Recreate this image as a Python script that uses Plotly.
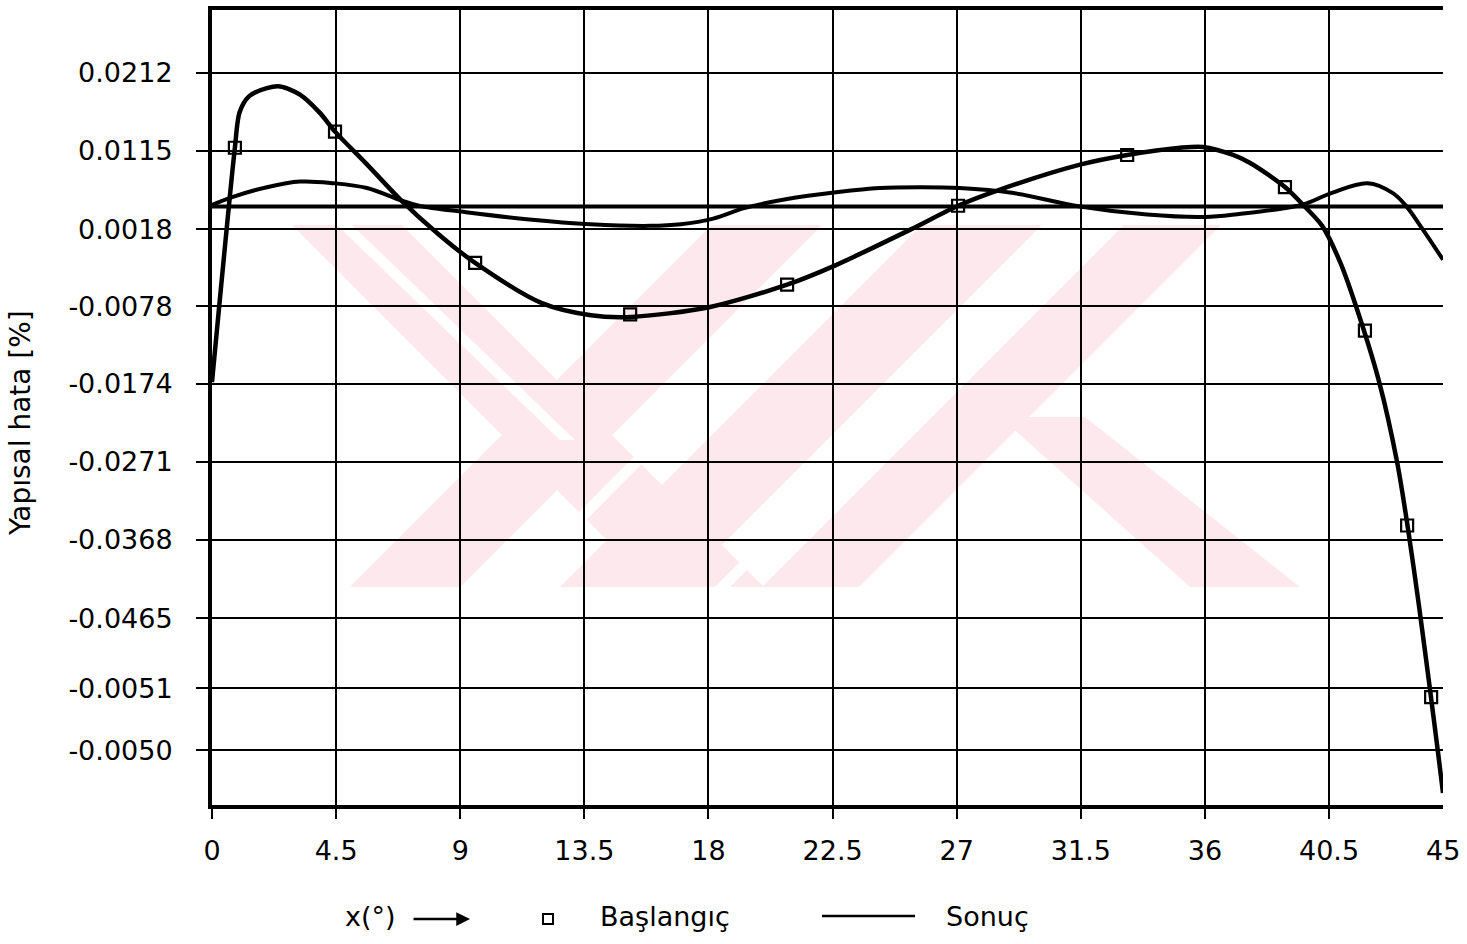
import plotly.graph_objects as go

# ---------------- data ----------------
x_tick_vals = [0, 4.5, 9, 13.5, 18, 22.5, 27, 31.5, 36, 40.5]
x_tick_text = ["0", "4.5", "9", "13.5", "18", "22.5", "27", "31.5", "36", "40.5"]

y_tick_vals = [0.0212, 0.0115, 0.0018, -0.0078, -0.0174, -0.0271, -0.0368, -0.0465, -0.0552, -0.0629]
y_tick_text = ["0.0212", "0.0115", "0.0018", "-0.0078", "-0.0174", "-0.0271",
               "-0.0368", "-0.0465", "-0.0051", "-0.0050"]

# Başlangıç (initial) curve
bas_x = [0, 0.83, 1.0, 1.35, 1.99, 2.47, 3.19, 3.92, 4.46, 5.6, 6.82, 8.2, 9.54,
         11.96, 13.74, 15.2, 18.02, 20.85, 22.6, 25.3, 27.05, 28.57, 31.47, 33.18,
         35.1, 35.93, 37.02, 37.64, 38.91, 39.56, 40.25, 40.9, 41.44, 42.31, 42.97,
         43.37, 43.76, 44.16, 44.45, 44.63]
bas_y = [-0.0172, 0.0119, 0.0163, 0.0183, 0.0193, 0.0195, 0.0185, 0.0162, 0.0139,
         0.0099, 0.0055, 0.0012, -0.0024, -0.0074, -0.0089, -0.0091, -0.0079,
         -0.0051, -0.0027, 0.0017, 0.0047, 0.0067, 0.0098, 0.0110, 0.0119, 0.0120,
         0.0110, 0.0100, 0.0070, 0.0048, 0.0022, -0.0023, -0.0074, -0.0171,
         -0.0272, -0.0356, -0.0450, -0.0554, -0.0632, -0.0682]

# Başlangıç marker points
bas_mx = [0.83, 4.46, 9.54, 15.16, 20.85, 27.05, 33.18, 38.9, 41.8, 43.33, 44.2]
bas_my = [0.0119, 0.0139, -0.0024, -0.0088, -0.0051, 0.0047, 0.0110, 0.0070,
          -0.0108, -0.0350, -0.0563]

# Sonuç (result) curve
son_x = [0, 0.76, 1.99, 3.19, 4.39, 5.62, 6.82, 7.5, 9.21, 11.5, 13.71, 15.88, 17.0,
         18.17, 19.3, 20.8, 22.7, 24.2, 25.7, 27.1, 29.0, 31.47, 33.9, 36.0, 37.3,
         38.5, 39.6, 40.6, 41.9, 42.8, 43.26, 43.87, 44.63]
son_y = [0.0048, 0.0058, 0.0070, 0.0077, 0.0075, 0.0069, 0.0054, 0.0047, 0.0039,
         0.0030, 0.0024, 0.0022, 0.0024, 0.0031, 0.0044, 0.0055, 0.0064, 0.0069,
         0.0070, 0.0069, 0.0063, 0.0046, 0.0036, 0.0033, 0.0037, 0.0042, 0.0049,
         0.0063, 0.0075, 0.0063, 0.0048, 0.0019, -0.0020]

ref_level = 0.0046          # thick horizontal reference line
x_range = [0, 44.63]
y_range = [-0.0697, 0.0290]

# ---------------- layout geometry (pixels) ----------------
W, H = 1467, 944
ML, MR, MT, MB = 212, 24, 10, 139
PW, PH = W - ML - MR, H - MT - MB


def px(xp):
    return (xp - ML) / PW


def py(yp):
    return (H - MB - yp) / PH


FONT = "DejaVu Sans"

fig = go.Figure()

fig.add_trace(go.Scatter(x=son_x, y=son_y, mode="lines", name="Sonuç",
                         line=dict(color="black", width=4, shape="spline", smoothing=1.0),
                         showlegend=False))
fig.add_trace(go.Scatter(x=bas_x, y=bas_y, mode="lines", name="Başlangıç",
                         line=dict(color="black", width=4.5, shape="spline", smoothing=0.8),
                         showlegend=False))
fig.add_trace(go.Scatter(x=bas_mx, y=bas_my, mode="markers", name="Başlangıç",
                         marker=dict(symbol="square-open", size=12, color="black",
                                     line=dict(width=2.2, color="black")),
                         showlegend=False))

# ---------------- watermark (pale pink bands) ----------------
pink = "#fde9ed"
polys = [
    [(292, 225), (402, 225), (764, 587), (654, 587)],
    [(350, 587), (460, 587), (822, 225), (712, 225)],
    [(560, 587), (680, 587), (1042, 225), (922, 225)],
    [(762, 587), (859, 587), (1221, 225), (1124, 225)],
    [(1000, 417), (1085, 417), (1300, 587), (1190, 587)],
]
shapes = []
for poly in polys:
    path = "M " + " L ".join(f"{px(a):.5f},{py(b):.5f}" for a, b in poly) + " Z"
    shapes.append(dict(type="path", xref="paper", yref="paper", path=path,
                       fillcolor=pink, line=dict(width=0), layer="below"))
stripes = [
    [(337, 225), (352, 225), (575, 440), (560, 440)],
    [(505, 587), (520, 587), (700, 405), (685, 405)],
    [(715, 587), (730, 587), (1000, 315), (985, 315)],
]
for poly in stripes:
    path = "M " + " L ".join(f"{px(a):.5f},{py(b):.5f}" for a, b in poly) + " Z"
    shapes.append(dict(type="path", xref="paper", yref="paper", path=path,
                       fillcolor="white", line=dict(width=0), layer="below"))

# thick reference line
shapes.append(dict(type="line", xref="paper", x0=0, x1=1, yref="y", y0=ref_level, y1=ref_level,
                   line=dict(color="black", width=4), layer="above"))

# key under the chart
shapes.append(dict(type="rect", xref="paper", yref="paper",
                   x0=px(543), x1=px(553), y0=py(924), y1=py(914),
                   line=dict(color="black", width=2), fillcolor="white"))
shapes.append(dict(type="line", xref="paper", yref="paper",
                   x0=px(822), x1=px(915), y0=py(916), y1=py(916),
                   line=dict(color="black", width=2.5)))

txt = dict(family=FONT, size=27, color="black")
annotations = [
    dict(text="x(°)", x=px(370), y=py(916), xref="paper", yref="paper",
         xanchor="center", yanchor="middle", showarrow=False, font=txt),
    dict(text="", x=px(470), y=py(919), xref="paper", yref="paper",
         ax=-58, ay=0, showarrow=True, arrowhead=2, arrowsize=1.1, arrowwidth=2.5,
         arrowcolor="black"),
    dict(text="Başlangıç", x=px(665), y=py(916), xref="paper", yref="paper",
         xanchor="center", yanchor="middle", showarrow=False, font=txt),
    dict(text="Sonuç", x=px(987), y=py(916), xref="paper", yref="paper",
         xanchor="center", yanchor="middle", showarrow=False, font=txt),
    dict(text="45", x=px(1462), y=py(850), xref="paper", yref="paper",
         xanchor="right", yanchor="middle", showarrow=False, font=txt),
    dict(text="Yapısal hata [%]", x=px(20), y=py(423), xref="paper", yref="paper",
         xanchor="center", yanchor="middle",
         textangle=-90, showarrow=False, font=dict(family=FONT, size=28, color="black")),
]

fig.update_layout(
    width=W, height=H,
    margin=dict(l=ML, r=MR, t=MT, b=MB, autoexpand=False),
    paper_bgcolor="white", plot_bgcolor="white",
    shapes=shapes, annotations=annotations,
    font=dict(family=FONT, size=27, color="black"),
    xaxis=dict(range=x_range, tickmode="array", tickvals=x_tick_vals, ticktext=x_tick_text,
               showgrid=True, gridcolor="black", gridwidth=2,
               showline=True, linecolor="black", linewidth=4, mirror=True,
               ticks="outside", ticklen=10, tickwidth=2, tickcolor="black",
               ticklabelstandoff=9, zeroline=False, tickfont=txt),
    yaxis=dict(range=y_range, tickmode="array", tickvals=y_tick_vals, ticktext=y_tick_text,
               showgrid=True, gridcolor="black", gridwidth=2,
               showline=True, linecolor="black", linewidth=4, mirror=False,
               ticks="outside", ticklen=12, tickwidth=2, tickcolor="black",
               ticklabelstandoff=18, zeroline=False, tickfont=txt),
)

fig.write_html("out.html")
